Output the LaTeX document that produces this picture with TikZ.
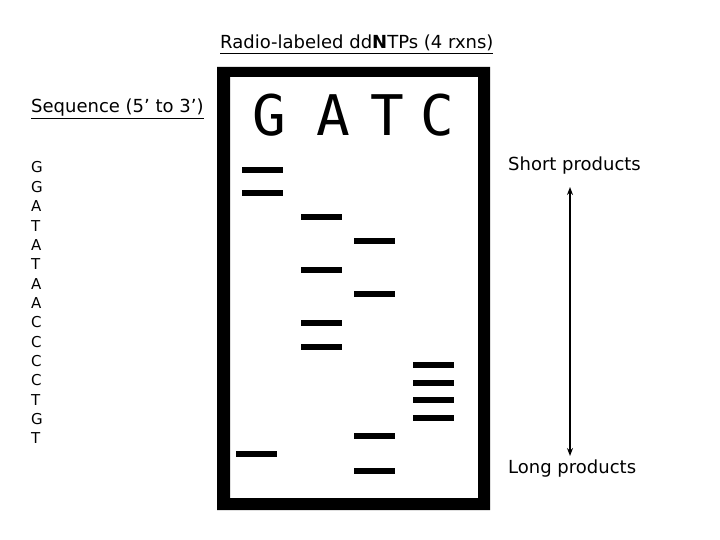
\documentclass[tikz,border=0pt]{standalone}
\usepackage{fontspec}
\setmainfont{DejaVu Sans}
\newfontfamily\gelfont{DejaVu Sans Mono}
\usetikzlibrary{arrows.meta}
\tikzset{gel/.style={
  x=1pt,y=-1pt,
  >={Stealth[length=8pt,width=6pt]},line join=miter
},
  txt/.style={font=\fontsize{18}{18}\selectfont,inner sep=0pt},
  seqletter/.style={font=\fontsize{15}{15}\selectfont,inner sep=0pt},
  lane/.style={font=\gelfont\fontsize{56}{56}\selectfont,inner sep=0pt}
}

\begin{document}
\begin{tikzpicture}[gel]
  \useasboundingbox (0,0) rectangle (720,540);
  \node[txt,anchor=base west] (title) at (220,49) {\underline{Radio-labeled dd\textbf{N}TPs (4 rxns)}};
  \node[txt,anchor=base west] (seqhead) at (31,113) {\underline{Sequence (5’ to 3’)}};
  \foreach \b [count=\i] in {G,G,A,T,A,T,A,A,C,C,C,C,T,G,T}
    \node[seqletter,anchor=base west] (s\i) at (31,{173+19.35*(\i-1)}) {\b};
  % gel frame
  \fill[even odd rule] (217,67) rectangle (490,510) (230,77) rectangle (478,498);
  \node[lane,anchor=base] (laneG) at (269,136) {G};
  \node[lane,anchor=base] (laneA) at (333,136) {A};
  \node[lane,anchor=base] (laneT) at (387,136) {T};
  \node[lane,anchor=base] (laneC) at (437,136) {C};
  % bands
  \foreach \x/\y in {242/170,242/193,236/454,
                     301/217,301/270,301/323,301/347,
                     354/241,354/294,354/436,354/471,
                     413/365,413/383,413/400,413/418}
    \fill (\x,\y-3) rectangle ++(41,6);
  \node[txt,anchor=base west] (short) at (508,171) {Short products};
  \node[txt,anchor=base west] (long) at (508,473) {Long products};
  \coordinate (top) at (570,187);
  \coordinate (bot) at (570,456);
  \draw[<->,line width=1.3pt] (top) -- (bot);
\end{tikzpicture}
\end{document}
